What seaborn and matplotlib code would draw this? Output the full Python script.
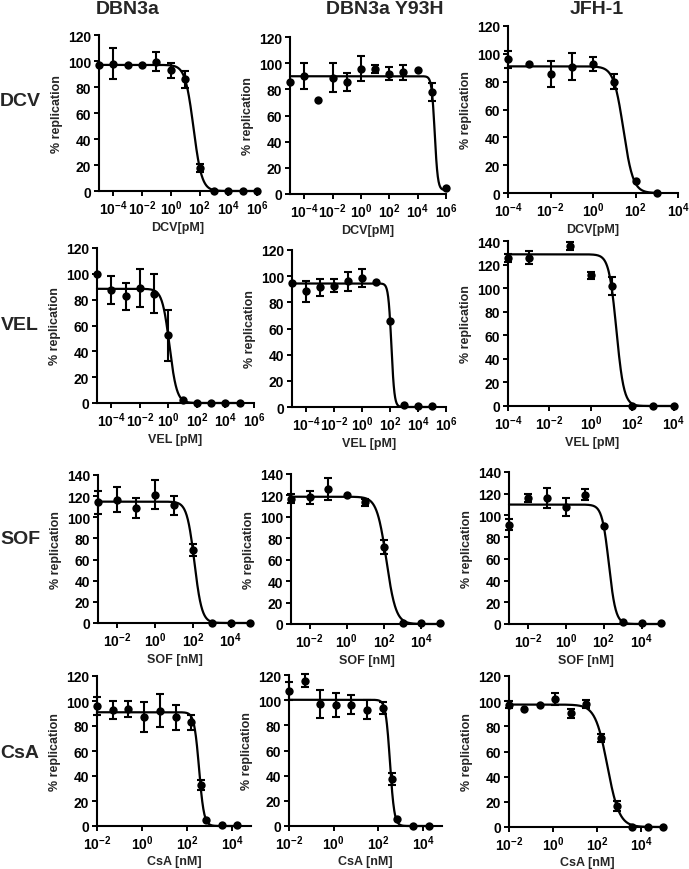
import numpy as np
import matplotlib
matplotlib.use('Agg')
import matplotlib.pyplot as plt
import seaborn as sns
from matplotlib.ticker import FixedLocator, NullLocator, FuncFormatter

sns.set_style('ticks')
plt.rcParams['font.family'] = ['Liberation Sans', 'DejaVu Sans']
plt.rcParams['font.weight'] = 'bold'
plt.rcParams['mathtext.fontset'] = 'custom'
plt.rcParams['mathtext.rm'] = 'Liberation Sans:bold'
plt.rcParams['mathtext.bf'] = 'Liberation Sans:bold'
plt.rcParams['mathtext.it'] = 'Liberation Sans:bold'

# column / row labels
strains = ['DBN3a', 'DBN3a Y93H', 'JFH-1']
drugs = ['DCV', 'VEL', 'SOF', 'CsA']
xlabels = ['DCV[pM]', 'VEL [pM]', 'SOF [nM]', 'CsA [nM]']

# concentrations
dcv_conc_dbn = [1e-5, 1e-4, 1e-3, 1e-2, 1e-1, 1, 10, 100, 1e3, 1e4, 1e5, 1e6]
dcv_conc_jfh = [1e-4, 1e-3, 1e-2, 1e-1, 1, 10, 100, 1e3]
vel_conc_dbn = [1e-5, 1e-4, 1e-3, 1e-2, 1e-1, 1, 10, 100, 1e3, 1e4, 1e5]
vel_conc_jfh = [1e-4, 1e-3, 1e-1, 1, 10, 100, 1e3, 1e4]
sof_conc = [1e-3, 1e-2, 1e-1, 1, 10, 100, 1e3, 1e4, 1e5]
csa_conc_dbn = [0.01, 0.05, 0.25, 1.25, 6.25, 31.25, 156.25, 400, 700, 3500, 17500]
csa_conc_jfh = [0.01, 0.05, 0.25, 1.25, 6.25, 31.25, 156.25, 781.25, 3906, 19531, 97656]

# % replication (mean, sd)
dcv_dbn3a = [97, 98, 97, 97, 99.5, 93, 86, 18, 0.3, 0.3, 0.3, 0.3]
dcv_dbn3a_sd = [0, 11.7, 0, 0, 7.5, 5.7, 6.5, 3, 0, 0, 0, 0]
dcv_y93h = [85.5, 90.5, 71.5, 89, 85.5, 95.7, 95.7, 92, 93, 94.4, 78, 4.6]
dcv_y93h_sd = [0, 10, 0, 11, 7, 9.5, 3, 5, 5.5, 0, 7, 0]
dcv_jfh1 = [96, 92.6, 85.4, 90.7, 92.6, 80, 8.6, 0.2]
dcv_jfh1_sd = [6, 0, 9.3, 9.8, 5, 5.5, 0, 0]

vel_dbn3a = [99.5, 87.6, 82.5, 89, 84.5, 52.3, 2, 0.3, 0.3, 0.3, 0.3]
vel_dbn3a_sd = [0, 11, 10.5, 14.5, 15, 20, 0, 0, 0, 0, 0]
vel_y93h = [94.7, 88.3, 91.4, 92.6, 96, 98.5, 95.7, 66, 1.3, 0.5, 0.5]
vel_y93h_sd = [0, 8, 6.5, 5, 7.5, 7, 0, 0, 0, 0, 0]
vel_jfh1 = [125.6, 125.6, 135.7, 110.9, 101.8, 0, 0, 0]
vel_jfh1_sd = [3, 5.5, 3.5, 3, 7.5, 0, 0, 0]

sof_dbn3a = [114.2, 116.7, 108.8, 121.4, 111.3, 69.2, 0.3, 0.3, 0.3]
sof_dbn3a_sd = [11, 12, 9.5, 13.5, 9, 6, 0, 0, 0]
sof_y93h = [117, 118.2, 126, 120.4, 113.5, 71.6, 0.6, 0.6, 0.6]
sof_y93h_sd = [4, 6, 10, 0, 3, 6.5, 0, 0, 0]
sof_jfh1 = [91.4, 116, 116, 107.7, 119, 90.2, 2.2, 0.6, 0.6]
sof_jfh1_sd = [5, 4, 9, 8.5, 5, 0, 0, 0, 0]

csa_dbn3a = [96, 92.9, 93.7, 87.1, 92.4, 87.1, 83.2, 32.9, 4.7, 0.5, 0.5]
csa_dbn3a_sd = [7, 7.5, 6.5, 12, 13, 10, 6, 4, 0, 0, 0]
csa_y93h = [107.4, 115.5, 97.2, 95.9, 96.4, 92.5, 93.8, 37.5, 5.2, 0.3, 0.3]
csa_y93h_sd = [7, 5, 11, 9.5, 7.5, 7.5, 5, 5, 0, 0, 0]
csa_jfh1 = [97.3, 94.1, 97.3, 101.7, 90.2, 97.8, 70.6, 16.7, 0, 0, 0]
csa_jfh1_sd = [3, 0, 0, 5, 3.5, 3.5, 3, 4, 0, 0, 0]

# fitted curves: top, bottom, IC50, hill slope
dcv_dbn3a_fit = [97, 0, 38, 1.5]
dcv_y93h_fit = [90, 3, 1.6e5, 4]
dcv_jfh1_fit = [91, 0, 27, 1.9]
vel_dbn3a_fit = [88.4, 0, 1.2, 1.7]
vel_y93h_fit = [94.4, 0, 125, 4]
vel_jfh1_fit = [128.7, 0, 16.8, 2.4]
sof_dbn3a_fit = [114.8, 0, 120, 2.2]
sof_y93h_fit = [118.8, 0, 135, 1.7]
sof_jfh1_fit = [110, 0, 188, 2.4]
csa_dbn3a_fit = [91, 0, 345, 4]
csa_y93h_fit = [100.3, 0, 330, 4.5]
csa_jfh1_fit = [97.3, 0, 290, 1.6]

W, H = 689, 870
fig = plt.figure(figsize=(W / 100, H / 100), dpi=100)


def rect(l, r, t, b):
    return [l / W, 1 - b / H, (r - l) / W, (b - t) / H]


wide = [1e-4, 1e-2, 1, 1e2, 1e4, 1e6]
mid = [1e-4, 1e-2, 1, 1e2, 1e4]
short = [1e-2, 1, 1e2, 1e4]

panels = [
    (0, 0, rect(99, 257, 36, 192), dcv_conc_dbn, dcv_dbn3a, dcv_dbn3a_sd, dcv_dbn3a_fit, (1e-5, 1e6), wide, 120),
    (0, 1, rect(290, 446, 38, 195), dcv_conc_dbn, dcv_y93h, dcv_y93h_sd, dcv_y93h_fit, (1e-5, 1e6), wide, 120),
    (0, 2, rect(508, 678, 27, 194), dcv_conc_jfh, dcv_jfh1, dcv_jfh1_sd, dcv_jfh1_fit, (1e-4, 1e4), mid, 120),
    (1, 0, rect(97, 254, 249, 404), vel_conc_dbn, vel_dbn3a, vel_dbn3a_sd, vel_dbn3a_fit, (1e-5, 1e6), wide, 120),
    (1, 1, rect(292, 446, 251, 408), vel_conc_dbn, vel_y93h, vel_y93h_sd, vel_y93h_fit, (1e-5, 1e6), wide, 120),
    (1, 2, rect(508, 677, 242, 407), vel_conc_jfh, vel_jfh1, vel_jfh1_sd, vel_jfh1_fit, (1e-4, 1.4e4), mid, 140),
    (2, 0, rect(98, 252, 476, 624), sof_conc, sof_dbn3a, sof_dbn3a_sd, sof_dbn3a_fit, (1e-3, 1.3e5), short, 140),
    (2, 1, rect(291, 443, 475, 625), sof_conc, sof_y93h, sof_y93h_sd, sof_y93h_fit, (1e-3, 1.5e5), short, 140),
    (2, 2, rect(509, 662, 473, 625), sof_conc, sof_jfh1, sof_jfh1_sd, sof_jfh1_fit, (1e-3, 1.2e5), short, 140),
    (3, 0, rect(97, 251, 677, 827), csa_conc_dbn, csa_dbn3a, csa_dbn3a_sd, csa_dbn3a_fit, (1e-2, 7e4), short, 120),
    (3, 1, rect(289, 442, 676, 827), csa_conc_dbn, csa_y93h, csa_y93h_sd, csa_y93h_fit, (1e-2, 7e4), short, 120),
    (3, 2, rect(509, 665, 677, 828), csa_conc_jfh, csa_jfh1, csa_jfh1_sd, csa_jfh1_fit, (1e-2, 1.2e5), short, 120),
]

fmt = FuncFormatter(lambda v, p: r'$10^{%d}$' % int(round(np.log10(v))))

for row, col, r, conc, mean, sd, fit, xlim, xt, ytop in panels:
    ax = fig.add_axes(r)
    conc = np.array(conc)
    mean = np.array(mean)
    sd = np.array(sd)
    top, bottom, ic50, hill = fit
    xs = np.logspace(np.log10(conc.min()), np.log10(conc.max()), 400)
    ys = bottom + (top - bottom) / (1 + (xs / ic50) ** hill)
    sns.lineplot(x=xs, y=ys, ax=ax, color='black', lw=1.6, estimator=None, sort=False, clip_on=False)
    m = sd > 0
    ax.errorbar(conc[m], mean[m], yerr=sd[m], fmt='none', ecolor='black',
                elinewidth=1.5, capsize=3, capthick=1.5, clip_on=False, zorder=3)
    sns.scatterplot(x=conc, y=mean, ax=ax, color='black', s=36, edgecolor='black',
                    linewidth=0, clip_on=False, zorder=4)
    ax.set_xscale('log')
    ax.set_xlim(*xlim)
    ax.set_ylim(0, ytop)
    ax.set_yticks(np.arange(0, ytop + 1, 20))
    ax.xaxis.set_major_locator(FixedLocator(xt))
    ax.xaxis.set_minor_locator(NullLocator())
    ax.xaxis.set_major_formatter(fmt)
    ax.tick_params(labelsize=10, width=1.4, length=3.5, pad=2, colors='black')
    for lab in ax.get_yticklabels():
        lab.set_fontweight('bold')
    for s in ['left', 'bottom']:
        ax.spines[s].set_linewidth(1.5)
        ax.spines[s].set_color('black')
    sns.despine(ax=ax)
    ax.set_ylabel('% replication', fontsize=9, fontweight='bold', labelpad=4)
    ax.set_xlabel(xlabels[row], fontsize=9, fontweight='bold', labelpad=3 if row < 3 else 2)

# column headers
for x, name in zip([128, 385, 597], strains):
    fig.text(x / W, 1 - 10 / H, name, ha='center', va='center', fontsize=14, fontweight='bold')
# row labels
for y, name in zip([102, 325, 540, 754], drugs):
    fig.text(20 / W, 1 - y / H, name, ha='center', va='center', fontsize=14, fontweight='bold')

fig.savefig('out.png', dpi=100, facecolor='white')
